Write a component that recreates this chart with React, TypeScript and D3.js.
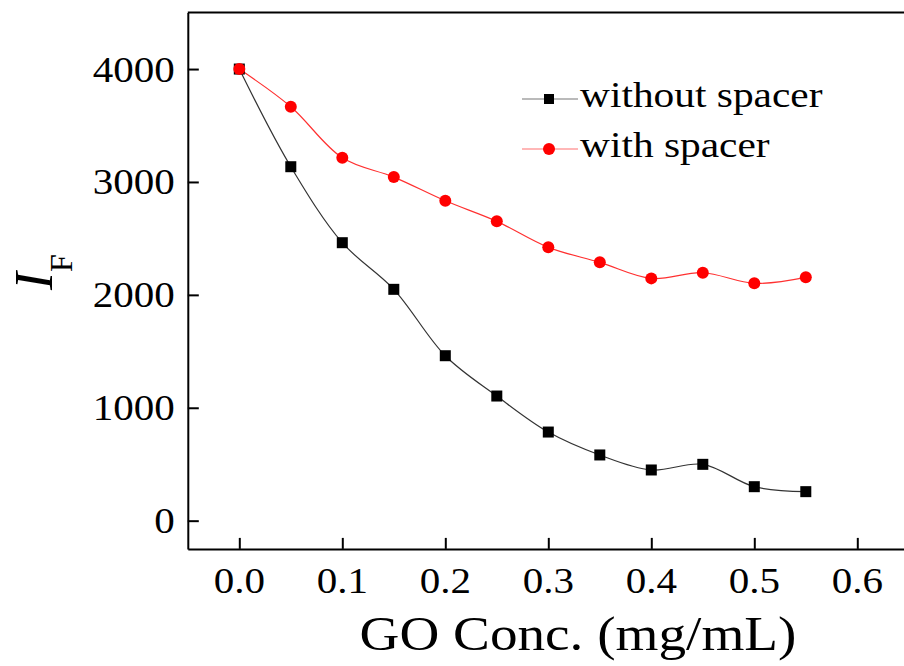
import React, { useEffect, useRef } from 'react'
import * as d3 from 'd3'

const concentrations = [0, 0.05, 0.1, 0.15, 0.2, 0.25, 0.3, 0.35, 0.4, 0.45, 0.5, 0.55]
const withoutSpacer = [4000, 3135, 2462, 2049, 1461, 1104, 785, 582, 449, 499, 301, 257]
const withSpacer = [4000, 3666, 3214, 3043, 2833, 2651, 2421, 2288, 2146, 2196, 2102, 2155]
const xTicks = [0, 0.1, 0.2, 0.3, 0.4, 0.5, 0.6]
const yTicks = [0, 1000, 2000, 3000, 4000]
const seriesNames = ['without spacer', 'with spacer']

const FONT = '"Liberation Serif", "Times New Roman", serif'
const SX = 1.14 // the source picture is stretched a bit sideways

export default function App() {
    const ref = useRef<SVGSVGElement>(null)

    useEffect(() => {
        const width = 904
        const svg = d3.select(ref.current)
        svg.selectAll('*').remove()

        const x = d3.scaleLinear().domain([-0.05, 0.65]).range([187.8, 908.8])
        const y = d3.scaleLinear().domain([-250, 4500]).range([548.9, 12.6])

        // axes, ticks pointing inward
        const yAxis = d3.axisLeft(y).tickValues(yTicks).tickSizeInner(-11).tickSizeOuter(0).tickFormat(() => '')
        const xAxis = d3.axisBottom(x).tickValues(xTicks).tickSizeInner(-11).tickSizeOuter(0).tickFormat(() => '')
        const gy = svg.append('g').attr('transform', `translate(${x(-0.05)},0)`).call(yAxis)
        const gx = svg.append('g').attr('transform', `translate(0,${y(-250)})`).call(xAxis)
        for (const g of [gx, gy]) {
            g.selectAll('path, line').attr('stroke', '#000').attr('stroke-width', 2)
        }
        // top frame line
        svg.append('line')
            .attr('x1', x(-0.05)).attr('x2', width)
            .attr('y1', y(4500)).attr('y2', y(4500))
            .attr('stroke', '#000').attr('stroke-width', 2)

        // tick labels
        svg.append('g').selectAll('text').data(yTicks).join('text')
            .attr('transform', d => `translate(${x(-0.05) - 13},${y(d) + 12.5}) scale(${SX},1)`)
            .attr('text-anchor', 'end')
            .attr('font-family', FONT).attr('font-size', 36)
            .text(d => String(d))
        svg.append('g').selectAll('text').data(xTicks).join('text')
            .attr('transform', d => `translate(${x(d)},593) scale(${SX},1)`)
            .attr('text-anchor', 'middle')
            .attr('font-family', FONT).attr('font-size', 36)
            .text(d => d3.format('.1f')(d))

        // axis titles
        svg.append('text')
            .attr('transform', `translate(578,650) scale(1.15,1)`)
            .attr('text-anchor', 'middle')
            .attr('font-family', FONT).attr('font-size', 48)
            .text('GO Conc. (mg/mL)')
        const yl = svg.append('text')
            .attr('transform', 'translate(52,272) rotate(-90)')
            .attr('text-anchor', 'middle')
            .attr('font-family', FONT)
        yl.append('tspan').attr('font-size', 54).attr('font-style', 'italic').text('I')
        yl.append('tspan').attr('font-size', 32).attr('dy', 20).text('F')

        // curves
        const line = d3.line<number>()
            .x((_, i) => x(concentrations[i]))
            .y(d => y(d))
            .curve(d3.curveCatmullRom.alpha(0.5))
        svg.append('path').attr('d', line(withoutSpacer))
            .attr('fill', 'none').attr('stroke', '#333').attr('stroke-width', 1.2)
        svg.append('path').attr('d', line(withSpacer))
            .attr('fill', 'none').attr('stroke', '#ff3030').attr('stroke-width', 1.2)

        const sq = 11
        svg.append('g').selectAll('rect').data(withoutSpacer).join('rect')
            .attr('x', (_, i) => x(concentrations[i]) - sq / 2)
            .attr('y', d => y(d) - sq / 2)
            .attr('width', sq).attr('height', sq)
            .attr('fill', '#000')
        svg.append('g').selectAll('circle').data(withSpacer).join('circle')
            .attr('cx', (_, i) => x(concentrations[i]))
            .attr('cy', d => y(d))
            .attr('r', 6)
            .attr('fill', '#ff0000')

        // legend
        const lg = svg.append('g')
        const legendY = [99, 149]
        lg.append('line').attr('x1', 522).attr('x2', 578).attr('y1', legendY[0]).attr('y2', legendY[0])
            .attr('stroke', '#777').attr('stroke-width', 1.2)
        lg.append('rect').attr('x', 549 - 5).attr('y', legendY[0] - 5).attr('width', 10).attr('height', 10).attr('fill', '#000')
        lg.append('line').attr('x1', 522).attr('x2', 578).attr('y1', legendY[1]).attr('y2', legendY[1])
            .attr('stroke', '#ff7070').attr('stroke-width', 1.2)
        lg.append('circle').attr('cx', 549).attr('cy', legendY[1]).attr('r', 6).attr('fill', '#ff0000')
        lg.selectAll('text').data(seriesNames).join('text')
            .attr('transform', (_, i) => `translate(580,${legendY[i] + 8}) scale(1.15,1)`)
            .attr('font-family', FONT).attr('font-size', 36)
            .text(d => d)
    }, [])

    return (
        <svg ref={ref} width={904} height={666}
            style={{ position: 'absolute', left: 0, top: 0, background: '#fff' }} />
    )
}
